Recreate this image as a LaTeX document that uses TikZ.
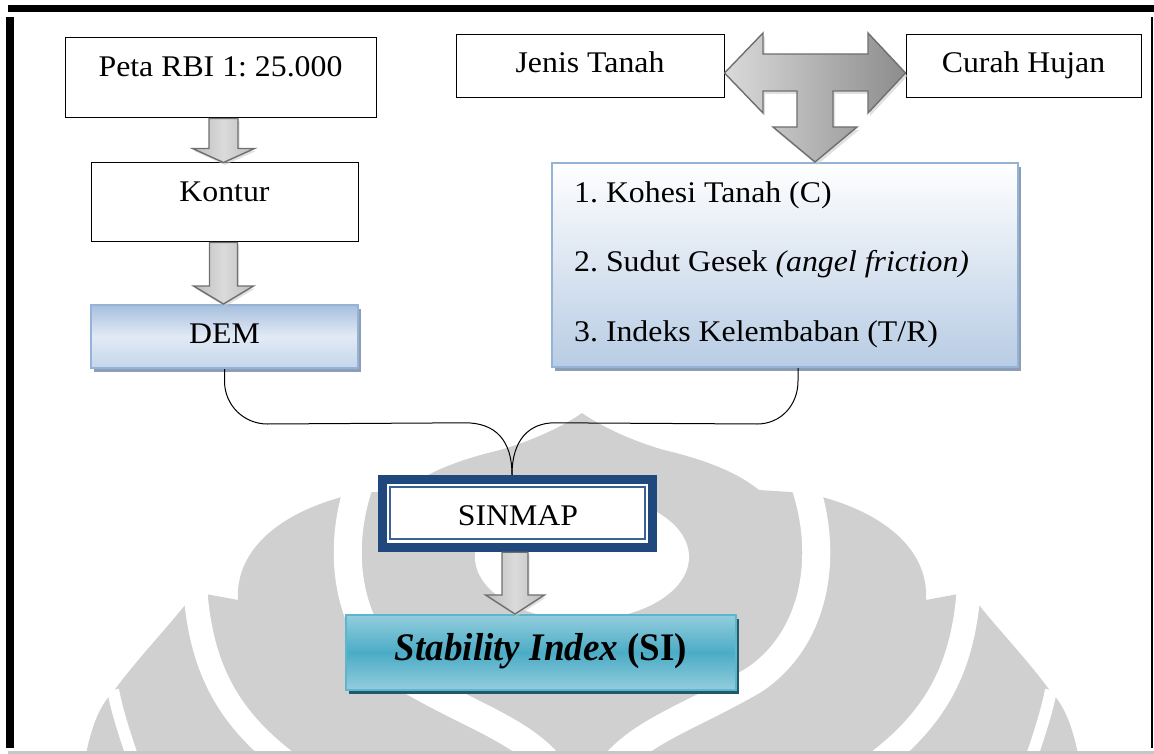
\documentclass[tikz,border=0pt]{standalone}
\usepackage{fontspec}
\setmainfont{Liberation Serif}[FakeStretch=1.06]
\newfontfamily\sifont{Liberation Serif}[FakeStretch=0.95]
\usetikzlibrary{calc,shadows}
\definecolor{wm}{HTML}{D0D0D0}
\definecolor{navy}{HTML}{1F497D}
\definecolor{navyline}{HTML}{3A6298}
\definecolor{lblue}{HTML}{95B3D7}
\definecolor{demtop}{HTML}{A7BFDE}
\definecolor{demmid}{HTML}{E2EAF5}
\definecolor{dembot}{HTML}{C4D5EB}
\definecolor{parbot}{HTML}{B8CCE4}
\definecolor{bshadow}{HTML}{8C9DB6}
\definecolor{sitop}{HTML}{93CDDD}
\definecolor{simid}{HTML}{4BACC6}
\definecolor{siedge}{HTML}{5DB6CD}
\definecolor{sishadow}{HTML}{215968}
\definecolor{arrline}{HTML}{6F6F6F}
\definecolor{arrlight}{HTML}{DADADA}
\definecolor{arrmid}{HTML}{BDBDBD}
\definecolor{arrdark}{HTML}{8C8C8C}
\newcommand\makarahalf{%
  \fill[wm] (582,754) -- (86,754) .. controls (92,725) and (100,705) .. (113,692)
    .. controls (140,655) and (175,620) .. (195,592) -- (238,600)
    .. controls (235,550) and (280,510) .. (358,493) -- (405,490)
    .. controls (420,478) and (445,463) .. (500,450)
    .. controls (535,440) and (565,425) .. (582,413) -- cycle;
  \draw[white, line width=24] (195,585) .. controls (200,670) and (230,720) .. (290,765);
  \draw[white, line width=28] (358,488) .. controls (335,560) and (350,640) .. (410,680)
    .. controls (470,715) and (520,730) .. (550,765);
  \draw[white, line width=12] (113,690) .. controls (118,715) and (125,735) .. (135,765);
}
\newcommand\blockdown[6]{%
  \path[blockarrow] let \p1=($(#1.south)+(#3,0)$), \p2=(#2.north) in
    (\x1-#4,\y1) -- (\x1+#4,\y1) -- (\x1+#4,\y2+#6) -- (\x1+#5,\y2+#6) -- (\x1,\y2)
    -- (\x1-#5,\y2+#6) -- (\x1-#4,\y2+#6) -- cycle;}
\begin{document}
\frenchspacing
\begin{tikzpicture}[x=1pt,y=-1pt,
  txt/.style={font=\fontsize{30}{36}\selectfont\frenchspacing, inner sep=0pt, anchor=base},
  txtw/.style={font=\fontsize{30}{36}\selectfont\frenchspacing, inner sep=0pt, anchor=base west},
  plainbox/.style={draw=black, line width=1pt, fill=white, inner sep=0pt},
  dembox/.style={draw=lblue, line width=2pt, inner sep=0pt, top color=demtop, bottom color=dembot, middle color=demmid,
    drop shadow={shadow xshift=3pt, shadow yshift=-4pt, fill=bshadow, opacity=1}},
  parbox/.style={draw=lblue, line width=2pt, inner sep=0pt, top color=white, bottom color=parbot,
    drop shadow={shadow xshift=3pt, shadow yshift=-4pt, fill=bshadow, opacity=1}},
  sibox/.style={draw=siedge, line width=2pt, inner sep=0pt, top color=sitop, bottom color=sitop, middle color=simid,
    drop shadow={shadow xshift=3pt, shadow yshift=-4pt, fill=sishadow, opacity=1}},
  blockarrow/.style={draw=arrline, line width=1.4pt, left color=arrmid, right color=arrmid, middle color=arrlight,
    drop shadow={shadow xshift=1.5pt, shadow yshift=-2.5pt, fill=gray!40, opacity=0.6}},
  tarrow/.style={draw=arrline, line width=1.4pt, left color=arrlight, right color=arrdark,
    drop shadow={shadow xshift=2pt, shadow yshift=-3pt, fill=gray!40, opacity=0.6}},
  conn/.style={draw=black, line width=1pt}]
\useasboundingbox (0,0) rectangle (1154,754);
% watermark
\makarahalf
\begin{scope}[xshift=1164pt, xscale=-1]\makarahalf\end{scope}
\fill[white] (582,557) ellipse [x radius=107, y radius=63];
% frame
\fill[black] (8,5) rectangle (1154,12);
\fill[black] (6,17) rectangle (14,748);
\fill[black] (1150.5,17) rectangle (1153,748);
\fill[gray!45] (8,751) rectangle (1154,754);
% boxes
\node[plainbox, minimum width=311, minimum height=80] (peta) at (220.5,78) {};
\node[txt] (petat) at (220.5,77) {Peta RBI 1: 25.000};
\node[plainbox, minimum width=267, minimum height=79] (kontur) at (224.5,202.5) {};
\node[txt] (kontt) at (224.5,202) {Kontur};
\node[dembox, minimum width=267, minimum height=63] (dem) at (224.5,336.5) {};
\node[txt] (demt) at (224.5,343) {DEM};
\node[plainbox, minimum width=268, minimum height=63] (jenis) at (590,66.5) {};
\node[txt] (jenist) at (590,73) {Jenis Tanah};
\node[plainbox, minimum width=235, minimum height=63] (curah) at (1023.5,66.5) {};
\node[txt] (curaht) at (1023.5,73) {Curah Hujan};
\node[parbox, minimum width=466, minimum height=204] (params) at (785,265) {};
\node[txtw] (p1) at (574,203) {1. Kohesi Tanah (C)};
\node[txtw] (p2) at (574,272) {2. Sudut Gesek \textit{(angel friction)}};
\node[txtw] (p3) at (574,341) {3. Indeks Kelembaban (T/R)};
\node[fill=navy, inner sep=0pt, minimum width=279, minimum height=77] (sinmap) at (517.5,513.5) {};
\fill[white] ($(sinmap.south west)+(9,-9)$) rectangle ($(sinmap.north east)+(-9,9)$);
\draw[navyline, line width=1.6pt] ($(sinmap.south west)+(12,-13)$) rectangle ($(sinmap.north east)+(-12,12)$);
\node[txt] (sinmapt) at (518,525) {SINMAP};
\node[sibox, minimum width=390, minimum height=75] (si) at (541,652.5) {};
\node[inner sep=0pt, anchor=base, font=\sifont\fontsize{39}{46}\selectfont] (sit) at (541,660) {\textbf{\textit{Stability Index}} \textbf{(SI)}};
% curved connectors
\coordinate (meet) at ($(sinmap.north)+(-5.5,0)$);
\coordinate (pb) at ($(params.south)+(13,0)$);
\draw[conn] (dem.south) -- ($(dem.south)+(0,12)$) .. controls ($(dem.south)+(0,36)$) and ($(dem.south)+(19,55)$) .. ($(dem.south)+(43,55)$)
  -- ($(meet)+(-47,-52)$) .. controls ($(meet)+(-17,-52)$) and ($(meet)+(0,-35)$) .. (meet);
\draw[conn] (pb) -- ($(pb)+(0,13)$) .. controls ($(pb)+(0,37)$) and ($(pb)+(-17,56)$) .. ($(pb)+(-41,56)$)
  -- ($(meet)+(43,-52)$) .. controls ($(meet)+(17,-52)$) and ($(meet)+(0,-35)$) .. (meet);
% block arrows
\blockdown{peta}{kontur}{3}{14.5pt}{31pt}{14pt}
\blockdown{kontur}{dem}{-1}{14pt}{30pt}{18pt}
\blockdown{sinmap}{si}{-2.5}{13pt}{29.5pt}{19pt}
\path[tarrow] (jenis.east |- 0,73) -- (763,33) -- (763,54) -- (868,54) -- (868,33) -- (curah.west |- 0,73)
  -- (868,113) -- (868,91) -- (833,91) -- (833,127) -- (857,127) -- (params.north -| 815,0)
  -- (773,127) -- (797,127) -- (797,91) -- (763,91) -- (763,113) -- cycle;
\end{tikzpicture}
\end{document}
